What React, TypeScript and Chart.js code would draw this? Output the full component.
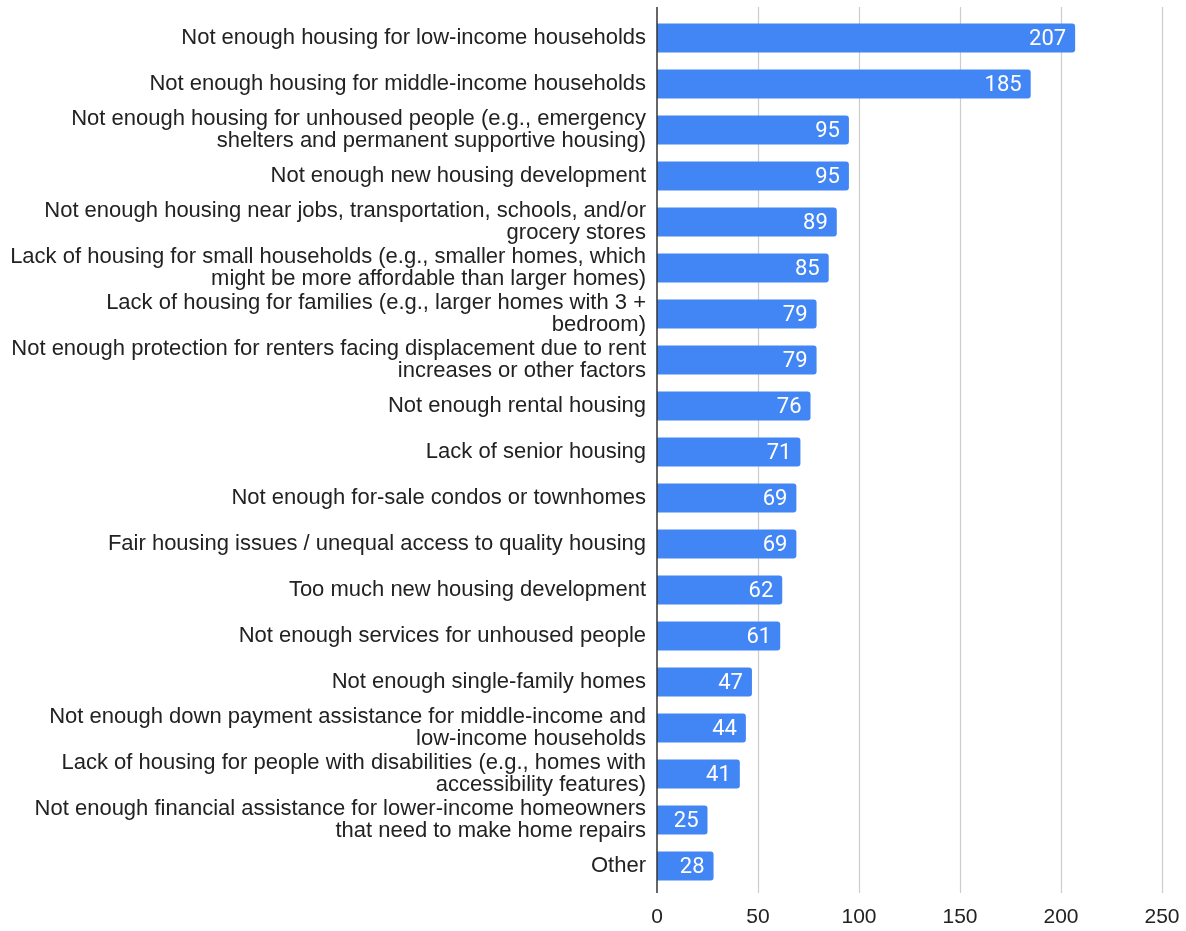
import React, { useEffect, useRef } from "react";
import { Chart, registerables } from "chart.js";

Chart.register(...registerables);

const categories: (string | string[])[] = [
  "Not enough housing for low-income households",
  "Not enough housing for middle-income households",
  ["Not enough housing for unhoused people (e.g., emergency", "shelters and permanent supportive housing)"],
  "Not enough new housing development",
  ["Not enough housing near jobs, transportation, schools, and/or", "grocery stores"],
  ["Lack of housing for small households (e.g., smaller homes, which", "might be more affordable than larger homes)"],
  ["Lack of housing for families (e.g., larger homes with 3 +", "bedroom)"],
  ["Not enough protection for renters facing displacement due to rent", "increases or other factors"],
  "Not enough rental housing",
  "Lack of senior housing",
  "Not enough for-sale condos or townhomes",
  "Fair housing issues / unequal access to quality housing",
  "Too much new housing development",
  "Not enough services for unhoused people",
  "Not enough single-family homes",
  ["Not enough down payment assistance for middle-income and", "low-income households"],
  ["Lack of housing for people with disabilities (e.g., homes with", "accessibility features)"],
  ["Not enough financial assistance for lower-income homeowners", "that need to make home repairs"],
  "Other",
];

const values: number[] = [207, 185, 95, 95, 89, 85, 79, 79, 76, 71, 69, 69, 62, 61, 47, 44, 41, 25, 28];

const xTicks: number[] = [0, 50, 100, 150, 200, 250];

const FONT = "'Liberation Sans', Arial, sans-serif";
const VFONT = "Roboto, 'Liberation Sans', Arial, sans-serif";

const valueLabels = {
  id: "valueLabels",
  afterDatasetsDraw(chart: any) {
    const ctx = chart.ctx;
    const meta = chart.getDatasetMeta(0);
    ctx.save();
    ctx.fillStyle = "#ffffff";
    ctx.font = `400 22px ${VFONT}`;
    ctx.textAlign = "right";
    ctx.textBaseline = "middle";
    meta.data.forEach((bar: any, i: number) => {
      ctx.fillText(String(values[i]), bar.x - 9, bar.y + 1);
    });
    ctx.restore();
  },
};

const gridAndZero = {
  id: "gridAndZero",
  beforeDatasetsDraw(chart: any) {
    const ctx = chart.ctx;
    const xs = chart.scales.x;
    const top = chart.chartArea.top - 8;
    const bottom = chart.chartArea.bottom + 4;
    ctx.save();
    ctx.strokeStyle = "#cccccc";
    ctx.lineWidth = 1.2;
    xTicks.forEach((v) => {
      if (v === 0) return;
      const x = Math.round(xs.getPixelForValue(v)) + 0.5;
      ctx.beginPath();
      ctx.moveTo(x, top);
      ctx.lineTo(x, bottom);
      ctx.stroke();
    });
    ctx.restore();
  },
  afterDraw(chart: any) {
    const ctx = chart.ctx;
    const x = chart.scales.x.getPixelForValue(0);
    ctx.save();
    ctx.strokeStyle = "#333333";
    ctx.lineWidth = 1.5;
    ctx.beginPath();
    ctx.moveTo(x, chart.chartArea.top - 8);
    ctx.lineTo(x, chart.chartArea.bottom + 4);
    ctx.stroke();
    ctx.restore();
  },
};

export default function App() {
  const ref = useRef<HTMLCanvasElement | null>(null);
  useEffect(() => {
    document.body.style.margin = "0";
    const chart = new Chart(ref.current as HTMLCanvasElement, {
      type: "bar",
      data: {
        labels: categories,
        datasets: [
          {
            data: values,
            backgroundColor: "#4285F4",
            borderRadius: 3,
            borderSkipped: "start",
            barPercentage: 0.63,
            categoryPercentage: 1,
          },
        ],
      },
      options: {
        indexAxis: "y",
        responsive: false,
        animation: false,
        layout: { padding: { top: 15, right: 24, left: 0, bottom: 0 } },
        plugins: { legend: { display: false }, tooltip: { enabled: false } },
        scales: {
          x: {
            min: 0,
            max: 250,
            afterBuildTicks: (s: any) => {
              s.ticks = xTicks.map((v) => ({ value: v }));
            },
            afterFit: (s: any) => {
              s.height = 42;
              s.paddingLeft = 0;
              s.paddingRight = 0;
            },
            grid: { display: false, drawTicks: false },
            border: { display: false },
            ticks: { color: "#222222", font: { family: FONT, size: 21 }, padding: 16 },
          },
          y: {
            afterFit: (s: any) => {
              s.width = 657;
              s.paddingTop = 0;
              s.paddingBottom = 0;
            },
            grid: { display: false, drawTicks: false },
            border: { display: false },
            ticks: {
              color: "#222222",
              font: { family: FONT, size: 22, lineHeight: 1.0 },
              padding: 11,
              autoSkip: false,
            },
          },
        },
      },
      plugins: [valueLabels, gridAndZero],
    });
    return () => chart.destroy();
  }, []);
  return (
    <div style={{ width: 1186, height: 931 }}>
      <canvas ref={ref} width={1186} height={931} style={{ display: "block", background: "#fff" }} />
    </div>
  );
}
